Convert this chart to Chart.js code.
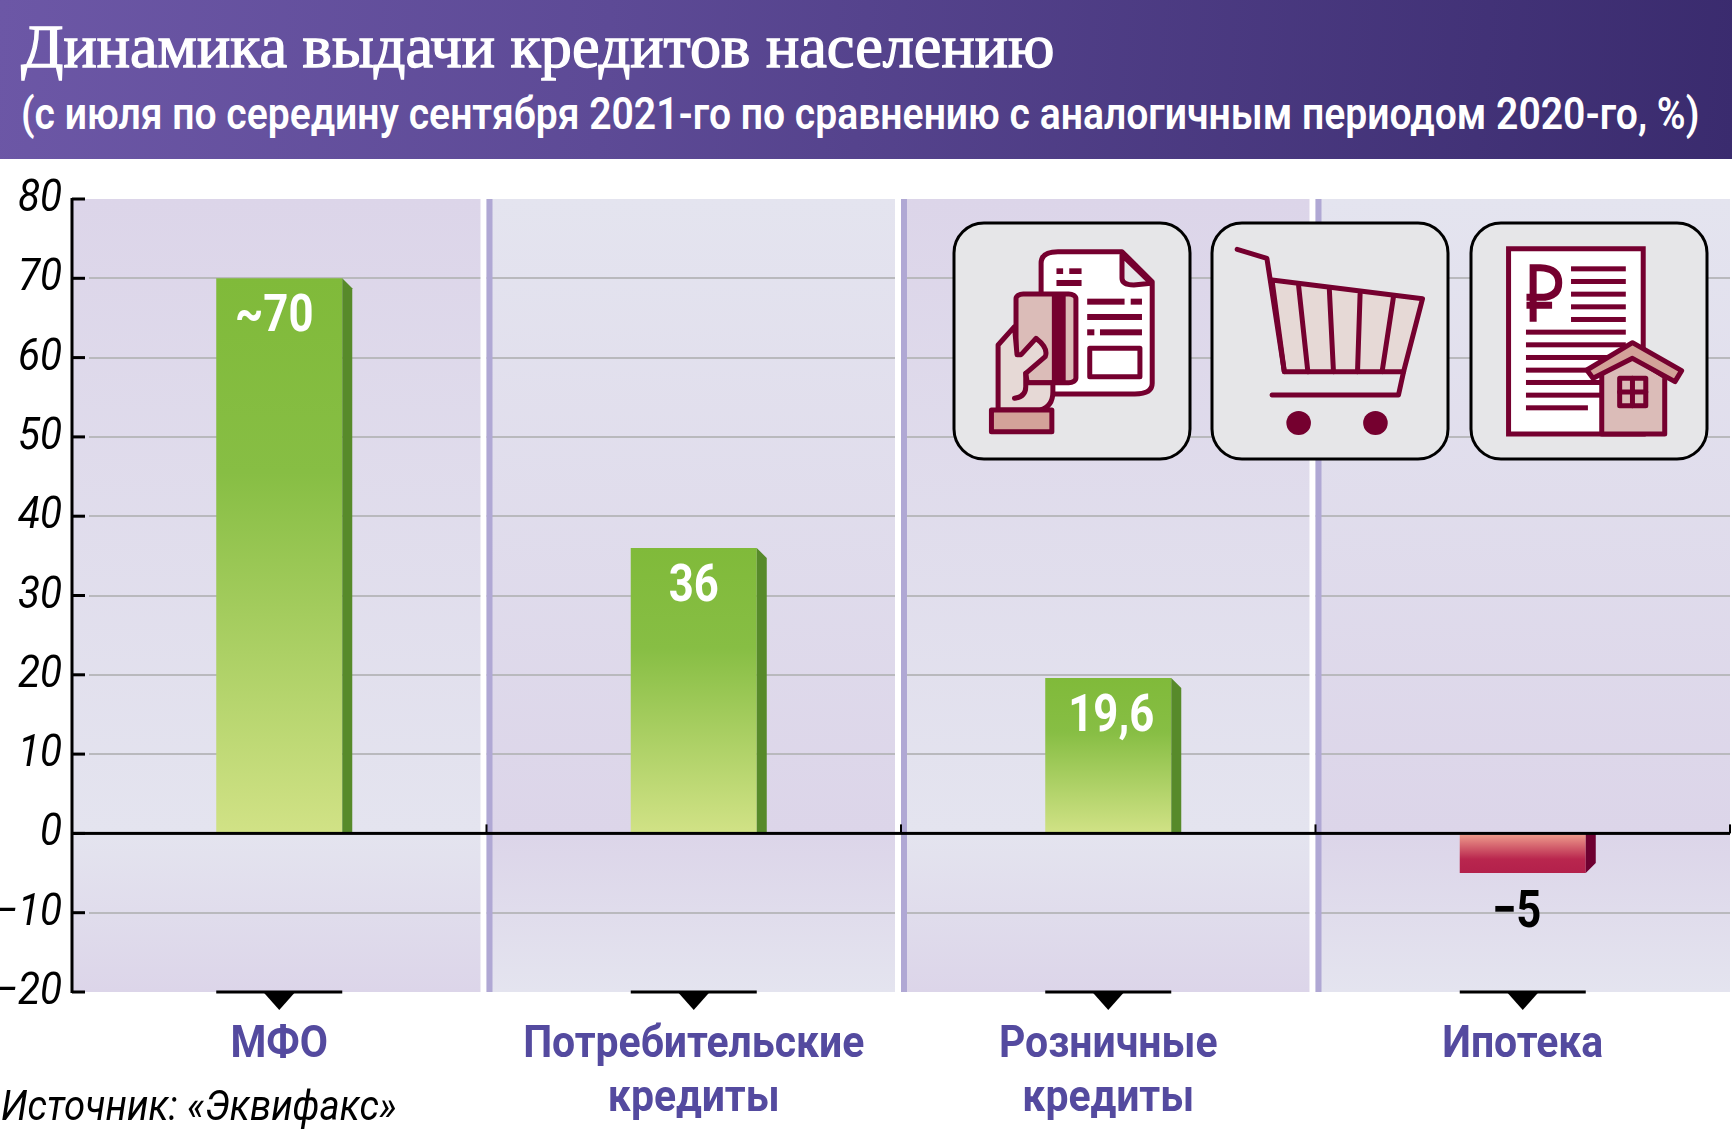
<!DOCTYPE html>
<html lang="ru">
<head>
    <meta charset="UTF-8">
    <title>Динамика выдачи кредитов населению</title>
    <script src="https://cdn.jsdelivr.net/npm/chart.js"></script>
    <style>
        body { margin: 0; background: #fff; }
        .page { position: relative; width: 1732px; height: 1131px; overflow: hidden; }
        canvas { position: absolute; left: 0; top: 0; }
        .header {
            position: absolute; left: 0; top: 0; width: 1732px; height: 159px;
            background: linear-gradient(95deg, #6c57a6 0%, #5d4a96 35%, #3a2b6e 100%);
            color: #fff;
        }
        .title, .subtitle, .source { position: absolute; white-space: nowrap; transform-origin: left top; }
        .title {
            left: 21px; top: 11px;
            font: normal 62px "Liberation Serif", serif;
            -webkit-text-stroke: 1.3px #fff;
        }
        .subtitle {
            left: 21px; top: 88px;
            font: 600 44px Roboto, sans-serif;
        }
        .source {
            left: 1px; top: 1081px;
            font: italic 42px Roboto, sans-serif; color: #000;
        }
        svg.icons { position: absolute; left: 0; top: 0; pointer-events: none; }
        svg.icons * { vector-effect: non-scaling-stroke; }
    </style>
</head>
<body>
<div class="page">
    <canvas id="chart" width="1732" height="1131"></canvas>

    <svg class="icons" width="1732" height="1131" viewBox="0 0 1732 1131">
        <rect x="954" y="223" width="236" height="236" rx="30" fill="#e6e6e8" stroke="#000" stroke-width="3"/>
        <rect x="1212" y="223" width="236" height="236" rx="30" fill="#e6e6e8" stroke="#000" stroke-width="3"/>
        <rect x="1471" y="223" width="236" height="236" rx="30" fill="#e6e6e8" stroke="#000" stroke-width="3"/>

        <g transform="translate(930,200) scale(0.512,0.3333)" stroke="#75002f" stroke-width="5" stroke-linejoin="round" stroke-linecap="round" fill="none">
            <!-- document and hand -->
            <path d="M217,285 L217,190 Q217,155 250,155 L375,155 L434,245 L434,550 Q434,582 400,582 L240,582" fill="#fff"/>
            <path d="M375,165 L375,235 Q375,255 398,255 L432,250 Z" fill="#e6e6e8"/>
            <g fill="#75002f" stroke="none">
                <rect x="247" y="205" width="13" height="17"/><rect x="272" y="205" width="24" height="17"/>
                <rect x="247" y="240" width="49" height="18"/><rect x="307" y="296" width="73" height="18"/>
                <rect x="392" y="296" width="22" height="18"/><rect x="307" y="342" width="107" height="18"/>
                <rect x="307" y="388" width="14" height="18"/><rect x="332" y="388" width="82" height="18"/>
            </g>
            <rect x="312" y="445" width="98" height="85" fill="#fff"/>
            <rect x="168" y="282" width="117" height="266" rx="14" fill="#dbbcb8"/>
            <rect x="238" y="284" width="27" height="262" fill="#75002f" stroke="none"/>
            <path d="M165,380 L133,435 L133,630 L215,630 Q240,620 240,575 L240,548 L190,548 L187,520 L225,470 Q232,445 207,415 L178,464 L170,464 Z" fill="#e6d9d6"/>
            <path d="M187,520 L187,560 Q187,590 165,595"/>
            <rect x="120" y="630" width="118" height="65" fill="#d3a299"/>

            <!-- cart -->
            <path d="M668,240 L962,296 L925,515 L692,515 Z" fill="#e6d9d6"/>
            <path d="M720,258 L738,515 M780,270 L788,515 M840,282 L835,515 M905,293 L883,515"/>
            <path d="M600,148 L658,175 L692,515 M925,515 L915,585 L668,585"/>
            <ellipse cx="720" cy="669" rx="24" ry="36" fill="#75002f" stroke="none"/>
            <ellipse cx="870" cy="669" rx="24" ry="36" fill="#75002f" stroke="none"/>

            <!-- loan document with house -->
            <rect x="1130" y="146" width="263" height="556" fill="#fff" stroke-linejoin="miter"/>
            <path d="M1178,365 L1178,203 L1192,203 Q1228,205 1228,248 Q1228,292 1192,292 L1165,292 M1165,316 L1215,316" stroke-width="7" stroke-linecap="butt" stroke-linejoin="miter"/>
            <g fill="#75002f" stroke="none">
                <rect x="1252" y="199" width="107" height="15"/><rect x="1252" y="237" width="107" height="15"/>
                <rect x="1252" y="275" width="107" height="15"/><rect x="1252" y="313" width="107" height="15"/>
                <rect x="1252" y="351" width="107" height="15"/><rect x="1164" y="389" width="195" height="15"/>
                <rect x="1164" y="427" width="195" height="15"/><rect x="1164" y="465" width="160" height="15"/>
                <rect x="1164" y="503" width="130" height="15"/><rect x="1164" y="540" width="150" height="15"/>
                <rect x="1164" y="578" width="150" height="15"/><rect x="1164" y="616" width="121" height="15"/>
            </g>
            <path d="M1312,520 L1372,470 L1435,530 L1435,702 L1312,702 Z" fill="#dbbcb8"/>
            <path d="M1372,428 L1468,512 L1455,545 L1372,475 L1295,535 L1283,510 Z" fill="#d3a299"/>
            <rect x="1347" y="535" width="51" height="82" fill="#dbbcb8"/>
            <path d="M1372,535 L1372,617 M1347,576 L1398,576"/>
        </g>
    </svg>

    <div class="header">
        <div class="title" data-width="1033">Динамика выдачи кредитов населению</div>
        <div class="subtitle" data-width="1678">(с июля по середину сентября 2021-го по сравнению с аналогичным периодом 2020-го, %)</div>
    </div>
    <div class="source" data-width="396">Источник: «Эквифакс»</div>
</div>

<script>
    const categories = [['МФО'], ['Потребительские', 'кредиты'], ['Розничные', 'кредиты'], ['Ипотека']];
    const values = [70, 36, 19.6, -5];
    const valueLabels = ['~70', '36', '19,6', '−5'];

    const ink = '#000';

    // no condensed font is installed, so squeeze the text
    function squeezed(ctx, text, x, y, sx, font, color, align) {
        ctx.save();
        ctx.translate(x, y);
        ctx.scale(sx, 1);
        ctx.font = font;
        ctx.fillStyle = color;
        ctx.textAlign = align;
        ctx.textBaseline = 'middle';
        ctx.fillText(text, 0, 0);
        ctx.restore();
    }

    document.querySelectorAll('[data-width]').forEach(el => {
        el.style.transform = `scaleX(${el.dataset.width / el.offsetWidth})`;
    });

    function panelFill(chart, i) {
        const { ctx, chartArea, scales } = chart;
        const dark = '#dcd5e9', light = '#e4e4ef';
        const zero = (scales.y.getPixelForValue(0) - chartArea.top) / chartArea.height;
        const g = ctx.createLinearGradient(0, chartArea.top, 0, chartArea.bottom);
        g.addColorStop(0, i % 2 ? light : dark);
        g.addColorStop(zero, i % 2 ? dark : light);
        g.addColorStop(1, i % 2 ? light : dark);
        return g;
    }

    // panels go under the library's grid lines
    const panels = {
        id: 'panels',
        beforeDraw(chart) {
            const { ctx, chartArea } = chart;
            const w = chartArea.width / categories.length;
            categories.forEach((c, i) => {
                ctx.fillStyle = panelFill(chart, i);
                ctx.fillRect(chartArea.left + i * w, chartArea.top, w, chartArea.height);
            });
        }
    };

    // stripes, axis, ticks, tick text and the fake 3d side of the bars
    const frame = {
        id: 'frame',
        beforeDatasetsDraw(chart) {
            const { ctx, chartArea } = chart;
            const w = chartArea.width / categories.length;
            ctx.save();
            ctx.fillStyle = panelFill(chart, 0);
            ctx.fillRect(chartArea.left, chartArea.top, 17, chartArea.height);
            for (let i = 1; i < categories.length; i++) {
                const x = chartArea.left + i * w;
                ctx.fillStyle = '#fff';
                ctx.fillRect(x - 6, chartArea.top, 6, chartArea.height);
                ctx.fillStyle = '#b0a8d4';
                ctx.fillRect(x, chartArea.top, 6, chartArea.height);
            }
            ctx.restore();
        },
        afterDatasetsDraw(chart) {
            const { ctx, chartArea, scales } = chart;
            const w = chartArea.width / categories.length;
            const y0 = scales.y.getPixelForValue(0);
            const labelDx = [-5, 0, 3, -6];
            ctx.save();

            chart.getDatasetMeta(0).data.forEach((bar, i) => {
                const right = bar.x + bar.width / 2;
                const d = 10;
                ctx.beginPath();
                if (values[i] >= 0) {
                    ctx.fillStyle = '#578a2a';
                    ctx.moveTo(right, bar.y);
                    ctx.lineTo(right + d, bar.y + d);
                    ctx.lineTo(right + d, y0);
                    ctx.lineTo(right, y0);
                } else {
                    ctx.fillStyle = '#6e0030';
                    ctx.moveTo(right, y0);
                    ctx.lineTo(right + d, y0);
                    ctx.lineTo(right + d, bar.y - d);
                    ctx.lineTo(right, bar.y);
                }
                ctx.closePath();
                ctx.fill();

                // tab under the plot
                const left = bar.x - bar.width / 2;
                ctx.fillStyle = ink;
                ctx.fillRect(left, chartArea.bottom - 1.5, bar.width, 3);
                ctx.beginPath();
                ctx.moveTo(bar.x - 16, chartArea.bottom);
                ctx.lineTo(bar.x + 16, chartArea.bottom);
                ctx.lineTo(bar.x, chartArea.bottom + 18);
                ctx.closePath();
                ctx.fill();

                const labelY = values[i] >= 0 ? bar.y + 40 : bar.y + 41;
                squeezed(ctx, valueLabels[i], bar.x + labelDx[i], labelY, 0.84, '700 52px Roboto', values[i] >= 0 ? '#fff' : ink, 'center');
            });

            // axis, zero line, ticks
            ctx.fillStyle = ink;
            ctx.fillRect(chartArea.left - 1.5, chartArea.top - 1, 3, chartArea.height + 2);
            ctx.fillRect(chartArea.left, y0 - 1.5, chartArea.width, 3);
            scales.y.ticks.forEach(t => {
                const y = scales.y.getPixelForValue(t.value);
                ctx.fillRect(chartArea.left, y - 1.5, 13, 3);
                squeezed(ctx, t.label, chartArea.left - 10, y + 1, 0.92, 'italic 44px Roboto', ink, 'right');
            });
            for (let i = 1; i <= categories.length; i++) {
                ctx.fillRect(chartArea.left + i * w - 1, y0 - 9, 2, 9);
            }

            scales.x.ticks.forEach((t, i) => {
                const x = scales.x.getPixelForTick(i);
                [].concat(t.label).forEach((line, n) => {
                    squeezed(ctx, line, x, chartArea.bottom + 54 + n * 54, 0.91, '700 45px Roboto', '#544a9f', 'center');
                });
            });
            ctx.restore();
        }
    };

    new Chart(document.getElementById('chart'), {
        type: 'bar',
        data: {
            labels: categories,
            datasets: [{
                data: values,
                barPercentage: 0.304,
                categoryPercentage: 1,
                backgroundColor(c) {
                    const { chartArea, ctx, scales } = c.chart;
                    if (!chartArea || c.raw === undefined) return '#82bb3c';
                    const y0 = scales.y.getPixelForValue(0);
                    const yv = scales.y.getPixelForValue(c.raw);
                    const g = ctx.createLinearGradient(0, yv, 0, y0);
                    if (c.raw >= 0) {
                        g.addColorStop(0, '#80ba3a');
                        g.addColorStop(0.35, '#87be44');
                        g.addColorStop(1, '#d1e286');
                    } else {
                        g.addColorStop(0, '#b3204b');
                        g.addColorStop(0.35, '#b9264e');
                        g.addColorStop(1, '#f0a08e');
                    }
                    return g;
                }
            }]
        },
        options: {
            responsive: false,
            animation: false,
            layout: { padding: { top: 199, right: 2, left: 0, bottom: 0 } },
            plugins: { legend: { display: false }, tooltip: { enabled: false } },
            scales: {
                x: {
                    afterFit(scale) { scale.height = 139; },
                    grid: { display: false, drawTicks: false },
                    border: { display: false },
                    ticks: { display: false, autoSkip: false, maxRotation: 0 }
                },
                y: {
                    min: -20,
                    max: 80,
                    afterFit(scale) { scale.width = 72; },
                    border: { display: false },
                    grid: {
                        drawTicks: false,
                        lineWidth: 2,
                        color: c => [0, 80, -20].includes(c.tick.value) ? 'rgba(0,0,0,0)' : '#b9b9bd'
                    },
                    ticks: {
                        display: false,
                        stepSize: 10,
                        callback: v => String(v).replace('-', '−')
                    }
                }
            }
        },
        plugins: [panels, frame]
    });
</script>
</body>
</html>
